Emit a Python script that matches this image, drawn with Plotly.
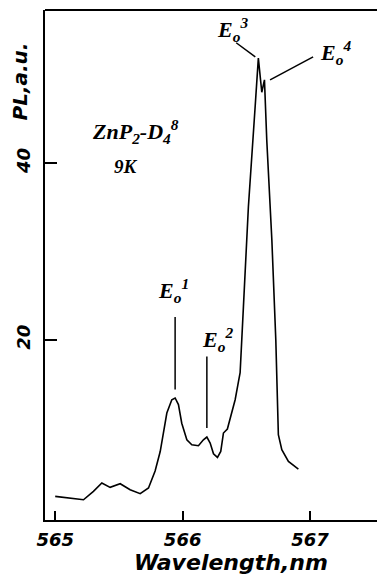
import plotly.graph_objects as go

# Spectrum
wavelength = [565.0, 565.118, 565.222, 565.30, 565.366, 565.431, 565.51, 565.588, 565.667, 565.732,
              565.784, 565.824, 565.846, 565.876, 565.915, 565.941, 565.967, 565.993, 566.033, 566.072,
              566.124, 566.163, 566.19, 566.216, 566.242, 566.273, 566.299, 566.32, 566.351, 566.386,
              566.412, 566.438, 566.451, 566.477, 566.516, 566.569, 566.594, 566.621, 566.642, 566.66,
              566.70, 566.731, 566.746, 566.751, 566.778, 566.83, 566.908]
pl = [2.33, 2.15, 1.95, 2.9, 3.84, 3.35, 3.76, 3.08, 2.63, 3.28,
      5.2, 7.4, 9.1, 11.75, 13.25, 13.45, 12.7, 10.6, 8.73, 8.17,
      8.06, 8.73, 9.04, 8.36, 7.15, 6.74, 7.41, 9.49, 9.94, 11.75,
      13.25, 15.3, 16.3, 23.8, 35.1, 46.4, 51.86, 48.0, 49.41, 42.6,
      31.3, 20.0, 13.25, 9.3, 7.6, 6.28, 5.42]

x_ticks = [565, 566, 567]
y_ticks = [20, 40]

fig = go.Figure()
fig.add_trace(go.Scatter(x=wavelength, y=pl, mode="lines",
                         line=dict(color="black", width=1.6),
                         hoverinfo="skip", showlegend=False))

tickfont = dict(family="DejaVu Sans", size=18, color="black", weight="bold", style="italic")
fig.update_layout(
    width=377, height=576,
    margin=dict(l=45, r=0, t=10, b=56),
    paper_bgcolor="white", plot_bgcolor="white",
    xaxis=dict(range=[564.92, 567.525], tickvals=x_ticks, ticktext=[str(v) for v in x_ticks],
               ticks="inside", ticklen=9, tickwidth=1.5, tickcolor="black",
               showline=True, linecolor="black", linewidth=2, mirror=False,
               showgrid=False, zeroline=False, ticklabelstandoff=2, automargin=False,
               tickfont=tickfont),
    yaxis=dict(range=[-0.34, 57.3], tickvals=y_ticks, ticktext=[str(v) for v in y_ticks],
               ticks="inside", ticklen=12, tickwidth=1.5, tickcolor="black",
               showline=True, linecolor="black", linewidth=2, mirror=False,
               showgrid=False, zeroline=False, tickangle=-90, ticklabelstandoff=6,
               automargin=False, tickfont=tickfont),
)

# top frame line
fig.add_shape(type="line", xref="paper", yref="paper", x0=0, x1=1, y0=1, y1=1,
              line=dict(color="black", width=2))

serif = dict(family="Liberation Serif", color="black", weight="bold", style="italic")
sans = dict(family="DejaVu Sans", color="black", weight="bold", style="italic")

annots = [
    dict(x=566.255, y=55.06, text="E<sub>o</sub><sup>3</sup>"),
    dict(x=567.063, y=52.5, text="E<sub>o</sub><sup>4</sup>"),
    dict(x=565.792, y=25.6, text="E<sub>o</sub><sup>1</sup>"),
    dict(x=566.137, y=20.05, text="E<sub>o</sub><sup>2</sup>"),
]
for a in annots:
    fig.add_annotation(x=a["x"], y=a["y"], text=a["text"], showarrow=False,
                       xanchor="left", yanchor="middle", font=dict(size=22, **serif))

fig.add_annotation(x=565.275, y=43.6, text="ZnP<sub>2</sub>-D<sub>4</sub><sup>8</sup>", showarrow=False,
                   xanchor="left", yanchor="middle", font=dict(size=22, **serif))
fig.add_annotation(x=565.447, y=39.6, text="9K", showarrow=False,
                   xanchor="left", yanchor="middle", font=dict(size=19, **serif))

fig.add_annotation(xref="paper", yref="paper", x=0.56, y=-0.083, text="Wavelength,nm", showarrow=False,
                   xanchor="center", yanchor="middle", font=dict(size=22, **sans))
fig.add_annotation(xref="paper", yref="paper", x=-0.075, y=0.86, text="PL,a.u.", showarrow=False,
                   textangle=-90, xanchor="center", yanchor="middle", font=dict(size=20, **sans))

# leader lines
leaders = [
    (566.42, 53.6, 566.57, 52.0),
    (566.686, 49.4, 567.024, 52.0),
    (565.941, 22.6, 565.941, 14.4),
    (566.19, 18.15, 566.19, 10.06),
]
for x0, y0, x1, y1 in leaders:
    fig.add_shape(type="line", x0=x0, y0=y0, x1=x1, y1=y1, line=dict(color="black", width=1.5))

fig.write_html("out.html", config={"displayModeBar": False},
               post_script="document.body.style.margin='0px';")
